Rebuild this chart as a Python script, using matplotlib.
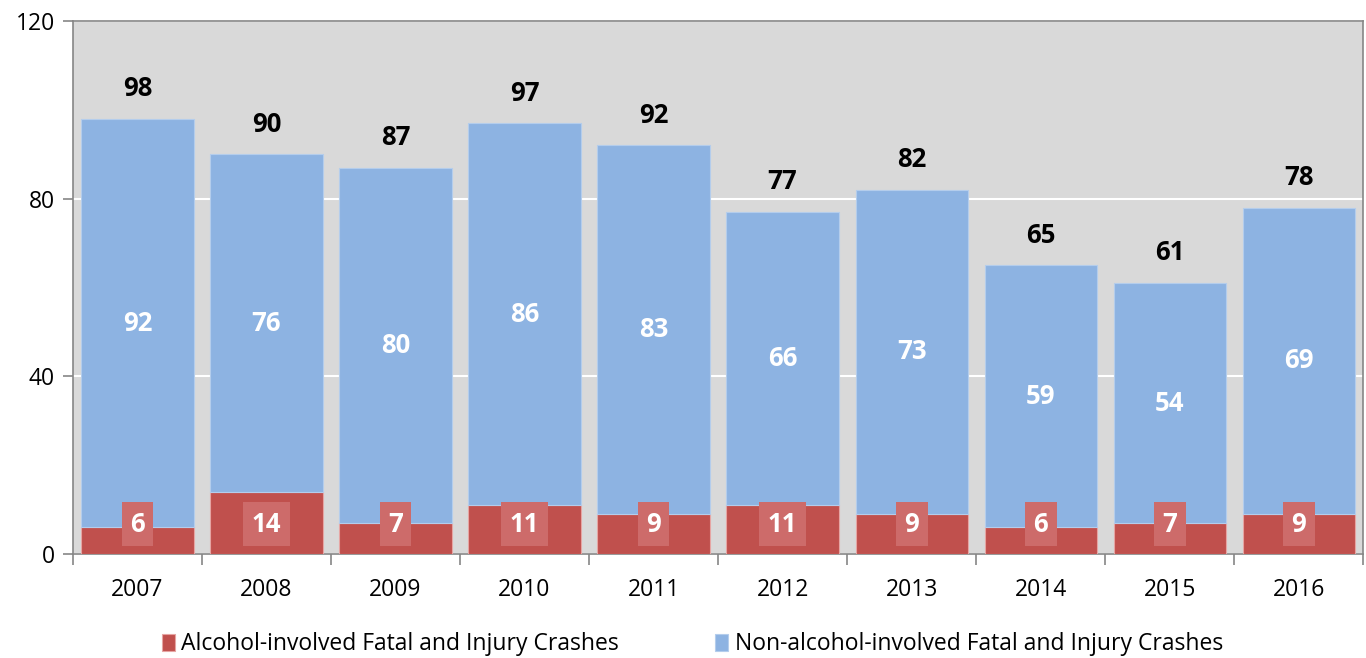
import numpy as np
import matplotlib.pyplot as plt

years = ['2007', '2008', '2009', '2010', '2011', '2012', '2013', '2014', '2015', '2016']
alcohol = [6, 14, 7, 11, 9, 11, 9, 6, 7, 9]
non_alcohol = [92, 76, 80, 86, 83, 66, 73, 59, 54, 69]
totals = [a + n for a, n in zip(alcohol, non_alcohol)]

red = '#c0504d'
blue = '#8db3e2'

plt.rcParams['font.family'] = ['Open Sans', 'DejaVu Sans']

fig = plt.figure(figsize=(13.66, 6.58), dpi=100)
ax = fig.add_axes([0.0534, 0.158, 0.9446, 0.81])
ax.set_facecolor('#d9d9d9')

x = np.arange(len(years))
width = 0.87
ax.bar(x, alcohol, width, color=red, edgecolor='#e6a5a3', linewidth=0.8,
       label='Alcohol-involved Fatal and Injury Crashes', zorder=3)
ax.bar(x, non_alcohol, width, bottom=alcohol, color=blue, edgecolor='#b4cdec',
       linewidth=0.8, label='Non-alcohol-involved Fatal and Injury Crashes', zorder=3)

# labels
for i in range(len(years)):
    ax.text(x[i], alcohol[i] + non_alcohol[i] / 2, str(non_alcohol[i]), ha='center', va='center',
            color='white', fontsize=18.5, fontweight='bold', zorder=5)
    ax.text(x[i], 6.7, str(alcohol[i]), ha='center', va='center', color='white',
            fontsize=18.5, fontweight='bold', zorder=5,
            bbox=dict(boxstyle='square,pad=0.33', facecolor='#cd6b6a', edgecolor='none'))
    ax.annotate(str(totals[i]), (x[i], totals[i]), xytext=(0, 12), textcoords='offset points',
                ha='center', va='bottom', fontsize=18.5, fontweight='bold', color='black')

ax.set_xlim(-0.5, len(years) - 0.5)
ax.set_ylim(0, 120)
ax.set_yticks([0, 40, 80, 120])
ax.yaxis.grid(True, color='white', linewidth=1.5, zorder=1)
ax.set_axisbelow(True)

ax.set_xticks(x)
ax.set_xticklabels(years)
ax.set_xticks(np.arange(-0.5, len(years), 1), minor=True)
ax.tick_params(axis='x', which='major', length=0, pad=17, labelsize=16.5)
ax.tick_params(axis='x', which='minor', length=8, color='#868686', width=1.2)
ax.tick_params(axis='y', length=7, color='#868686', width=1.2, labelsize=16.5, pad=6)

for s in ax.spines.values():
    s.set_color('#868686')
    s.set_linewidth(1.2)

fig.legend(loc='center', bbox_to_anchor=(0.507, 0.021), ncol=2, frameon=False,
           fontsize=16.5, handlelength=0.55, handleheight=0.75, handletextpad=0.3,
           columnspacing=4.2)

fig.savefig('out.png', dpi=100)
